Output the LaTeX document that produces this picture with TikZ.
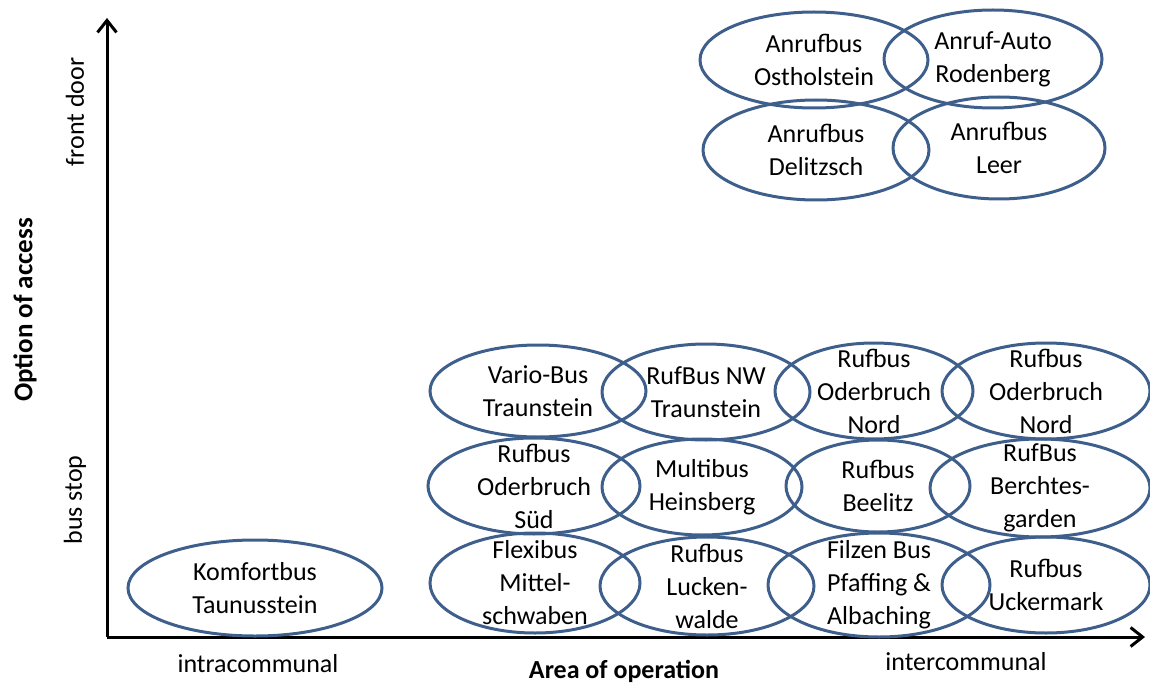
\documentclass[tikz,border=0pt]{standalone}
\usepackage{fontspec}
\setmainfont{Carlito}
\usepackage{tikz}
\usetikzlibrary{shapes.geometric,arrows.meta}
\definecolor{busblue}{HTML}{3E5F8C}

\begin{document}
\begin{tikzpicture}[x=0.5pt, y=-0.5pt,
                    bus node/.style={ellipse,draw=busblue,line width=1.5pt,inner sep=0pt},
                    oval/.style 2 args={minimum width=#1pt,minimum height=#2pt},
                    every label/.style={align=center,font=\fontsize{13}{16.5}\selectfont},
                    axis label/.style={font=\fontsize{13}{16}\selectfont},
                    axis/.style={line width=1.5pt,-{Straight Barb[length=6pt,width=9.5pt]}}]

  \useasboundingbox (0,0) rectangle (1150,684);

  % axes
  \coordinate (O) at (107,637);
  \coordinate (ytop) at (107,18);
  \coordinate (xend) at (1145,637);
  \draw[axis] (O) -- (ytop);
  \draw[axis] (O) -- (xend);

  \node[axis label,rotate=90] (fd) at (75,112) {front door};
  \node[axis label,rotate=90] (bs) at (75,500) {bus stop};
  \node[axis label,rotate=90,font=\fontsize{13.5}{16}\selectfont\bfseries] (oa) at (25,310) {Option of access};
  \node[axis label] (ic) at (258,664) {intracommunal};
  \node[axis label,font=\fontsize{13}{16}\selectfont\bfseries] (ao) at (624,671) {Area of operation};
  \node[axis label] (xc) at (966,662) {intercommunal};

  % front door
  \node[bus node,oval={114}{48},label={center:Anrufbus\\Ostholstein}] (ost) at (814,60) {};
  \node[bus node,oval={109}{49},label={center:Anruf-Auto\\Rodenberg}] (rod) at (993,59) {};
  \node[bus node,oval={113}{50},label={center:Anrufbus\\Delitzsch}] (del) at (816,150) {};
  \node[bus node,oval={106}{51},label={center:Anrufbus\\Leer}] (lee) at (999,148) {};

  % bus stop
  \node[bus node,oval={127}{48},label={center:Komfortbus\\Taunusstein}] (tau) at (255,588) {};

  \node[bus node,oval={108}{46},label={center:Vario-Bus\\Traunstein}] (vario) at (538,391) {};
  \node[bus node,oval={104}{48},label={center:RufBus NW\\Traunstein}] (nw) at (706,392) {};
  \node[bus node,oval={99}{48},label={center:Rufbus\\Oderbruch\\Nord}] (nord1) at (874,391) {};
  \node[bus node,oval={104}{48},label={center:Rufbus\\Oderbruch\\Nord}] (nord2) at (1046,391) {};

  \node[bus node,oval={106}{48},label={center:Rufbus\\Oderbruch\\Süd}] (sued) at (534,486) {};
  \node[bus node,oval={100}{48},label={center:Multibus\\Heinsberg}] (heins) at (702,487) {};
  \node[bus node,oval={92}{46},label={center:Rufbus\\Beelitz}] (beel) at (878,486) {};
  \node[bus node,oval={110}{49},label={center:RufBus\\Berchtes-\\garden}] (berch) at (1040,488) {};

  \node[bus node,oval={105}{50},label={center:Flexibus\\Mittel-\\schwaben}] (flex) at (535,583) {};
  \node[bus node,oval={107}{49},label={center:Rufbus\\Lucken-\\walde}] (luck) at (707,586) {};
  \node[bus node,oval={111}{52},label={center:Filzen Bus\\Pfaffing \&\\Albaching}] (filz) at (879,585) {};
  \node[bus node,oval={104}{48},label={center:Rufbus\\Uckermark}] (ucker) at (1046,585) {};
\end{tikzpicture}
\end{document}
